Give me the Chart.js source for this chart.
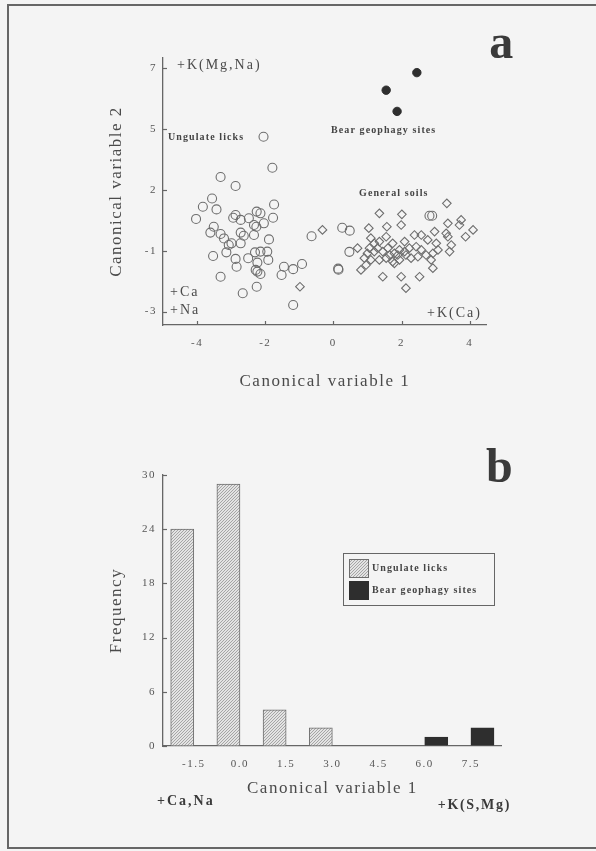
<!DOCTYPE html>
<html lang="en">
<head>
<meta charset="UTF-8">
<title>Canonical variables</title>
<style>
    body {
        margin: 0;
        background: #f4f4f4;
        width: 596px;
        height: 851px;
        overflow: hidden;
        position: relative;
    }
    .frame {
        position: absolute;
        left: 7px;
        top: 4px;
        width: 640px;
        height: 845px;
        border: 2px solid #666;
        box-sizing: border-box;
    }
    #scatterChart { position: absolute; left: 0; top: 0; }
    #barChart { position: absolute; left: 0; top: 420px; }
</style>
</head>
<body>
<div class="frame"></div>
<canvas id="scatterChart" width="596" height="420"></canvas>
<canvas id="barChart" width="596" height="431"></canvas>

<script src="https://cdn.jsdelivr.net/npm/chart.js"></script>
<script>
    // panel a: canonical variable 1 (x) / canonical variable 2 (y)
    const ungulateLicks = [
        [-2.05, 4.17], [-1.79, 2.90], [-3.31, 2.52], [-2.87, 2.15], [-3.56, 1.64],
        [-3.83, 1.30], [-3.43, 1.19], [-4.03, 0.80], [-1.74, 1.39], [-2.25, 1.10],
        [-2.14, 1.03], [-2.87, 0.96], [-2.94, 0.85], [-2.72, 0.76], [-2.48, 0.83],
        [-2.04, 0.62], [-1.77, 0.85], [-2.33, 0.55], [-2.26, 0.48], [-3.51, 0.48],
        [-3.61, 0.24], [-3.31, 0.18], [-2.72, 0.24], [-2.63, 0.11], [-2.33, 0.14],
        [-1.89, -0.04], [-3.21, 0.00], [-2.99, -0.20], [-3.07, -0.27], [-2.72, -0.20],
        [-3.14, -0.57], [-2.30, -0.57], [-2.14, -0.54], [-1.94, -0.54], [-3.53, -0.72],
        [-2.50, -0.81], [-2.87, -0.84], [-1.91, -0.88], [-2.23, -0.99], [-2.84, -1.16],
        [-2.28, -1.29], [-2.23, -1.36], [-2.14, -1.46], [-3.31, -1.57], [-2.25, -1.98],
        [-2.66, -2.25], [-1.45, -1.16], [-1.52, -1.50], [-1.18, -1.26], [-0.92, -1.05],
        [-1.18, -2.73], [-0.64, 0.09], [0.26, 0.44], [0.48, 0.32], [0.47, -0.55],
        [0.14, -1.24], [0.15, -1.28], [2.82, 0.93], [2.90, 0.93]
    ];
    const generalSoils = [
        [-0.32, 0.35], [-0.98, -1.98], [3.33, 1.44], [1.35, 1.03], [2.01, 0.99],
        [3.75, 0.76], [1.04, 0.42], [1.57, 0.48], [1.99, 0.55], [3.36, 0.62],
        [3.70, 0.55], [2.58, 0.14], [2.97, 0.28], [3.31, 0.21], [4.10, 0.35],
        [3.88, 0.07], [3.46, -0.27], [2.77, -0.06], [1.10, 0.01], [1.35, -0.13],
        [1.55, 0.07], [1.74, -0.20], [2.09, -0.13], [0.71, -0.40], [1.06, -0.40],
        [1.20, -0.54], [1.30, -0.40], [1.45, -0.54], [1.60, -0.40], [1.79, -0.61],
        [1.94, -0.47], [2.09, -0.54], [2.23, -0.40], [2.43, -0.34], [2.58, -0.47],
        [0.91, -0.81], [1.10, -0.88], [1.35, -0.88], [1.55, -0.81], [1.74, -0.95],
        [1.94, -0.88], [2.13, -0.68], [2.28, -0.81], [2.48, -0.75], [2.72, -0.68],
        [2.92, -0.61], [3.07, -0.47], [3.41, -0.54], [0.81, -1.29], [1.45, -1.57],
        [1.99, -1.57], [2.53, -1.57], [2.92, -1.22], [2.13, -2.04], [0.96, -1.09],
        [1.79, -1.02], [3.02, -0.20], [2.38, 0.14], [3.36, 0.07], [1.20, -0.20],
        [1.89, -0.68], [1.65, -0.68], [2.87, -0.88], [1.00, -0.61]
    ];
    const bearSites = [[2.45, 6.80], [1.55, 6.08], [1.87, 5.21]];

    const cv1Ticks = [-4, -2, 0, 2, 4];
    const cv2TickValues = [-3, -0.5, 2, 4.5, 7];
    const cv2TickLabels = ['-3', '-1', '2', '5', '7'];

    // panel b: frequency histogram of canonical variable 1
    const binCentres = [-1.5, 0, 1.5, 3, 4.5, 6, 7.5];
    const binLabels = ['-1.5', '0.0', '1.5', '3.0', '4.5', '6.0', '7.5'];
    const ungulateFreq = [24, 29, 4, 2, 0, 0, 0];
    const bearFreq = [0, 0, 0, 0, 0, 1, 2];
    const freqTicks = [0, 6, 12, 18, 24, 30];

    const SERIF = "'Liberation Serif', 'DejaVu Serif', serif";
    const toPts = arr => arr.map(p => ({ x: p[0], y: p[1] }));

    function makeHatch() {
        const c = document.createElement('canvas');
        c.width = 3; c.height = 3;
        const g = c.getContext('2d');
        g.fillStyle = '#e3e3e3';
        g.fillRect(0, 0, 3, 3);
        g.strokeStyle = '#959595';
        g.lineWidth = 0.8;
        g.beginPath();
        g.moveTo(0, 3); g.lineTo(3, 0);
        g.moveTo(-1.5, 1.5); g.lineTo(1.5, -1.5);
        g.moveTo(1.5, 4.5); g.lineTo(4.5, 1.5);
        g.stroke();
        return g.createPattern(c, 'repeat');
    }

    // chart.js draws ticks outward only, these go into the plot
    const innerTicks = {
        id: 'innerTicks',
        afterDraw(chart, args, opts) {
            const ctx = chart.ctx;
            ctx.save();
            ctx.strokeStyle = '#666';
            ctx.lineWidth = 1.2;
            (opts.axes || []).forEach(id => {
                const s = chart.scales[id];
                s.ticks.forEach(t => {
                    const p = Math.round(s.getPixelForValue(t.value)) + 0.5;
                    ctx.beginPath();
                    if (s.isHorizontal()) {
                        ctx.moveTo(p, s.top);
                        ctx.lineTo(p, s.top - 4);
                    } else {
                        ctx.moveTo(s.right, p);
                        ctx.lineTo(s.right + 4, p);
                    }
                    ctx.stroke();
                });
            });
            ctx.restore();
        }
    };

    const spacing = {
        id: 'spacing',
        beforeLayout(chart) { chart.ctx.letterSpacing = '1.5px'; },
        beforeDraw(chart) { chart.ctx.letterSpacing = '1.5px'; }
    };

    function drawText(ctx, text, x, y, font, color, align, ls) {
        ctx.save();
        ctx.font = font;
        ctx.fillStyle = color;
        ctx.textAlign = align || 'left';
        ctx.textBaseline = 'middle';
        ctx.letterSpacing = ls || '0px';
        ctx.fillText(text, x, y);
        ctx.restore();
    }

    const notesA = {
        id: 'notesA',
        afterDraw(chart) {
            const ctx = chart.ctx;
            drawText(ctx, '+K(Mg,Na)', 177, 65, '14px ' + SERIF, '#4a4a4a', 'left', '2px');
            drawText(ctx, '+Ca', 170, 292, '14px ' + SERIF, '#4a4a4a', 'left', '2px');
            drawText(ctx, '+Na', 170, 310, '14px ' + SERIF, '#4a4a4a', 'left', '2px');
            drawText(ctx, '+K(Ca)', 482, 313, '14px ' + SERIF, '#4a4a4a', 'right', '2px');
            drawText(ctx, 'Ungulate licks', 168, 137, 'bold 10px ' + SERIF, '#444', 'left', '1.1px');
            drawText(ctx, 'Bear geophagy sites', 331, 130, 'bold 10px ' + SERIF, '#444', 'left', '1.1px');
            drawText(ctx, 'General soils', 359, 193, 'bold 10px ' + SERIF, '#444', 'left', '1.1px');
            ctx.save();
            ctx.font = 'bold 48px ' + SERIF;
            ctx.fillStyle = '#3a3a3a';
            ctx.textAlign = 'center';
            ctx.textBaseline = 'alphabetic';
            ctx.fillText('a', 502, 58);
            ctx.restore();
        }
    };

    const notesB = {
        id: 'notesB',
        afterDraw(chart) {
            const ctx = chart.ctx;
            drawText(ctx, '+Ca,Na', 157, 381, 'bold 14px ' + SERIF, '#3a3a3a', 'left', '2px');
            drawText(ctx, '+K(S,Mg)', 511, 385, 'bold 14px ' + SERIF, '#3a3a3a', 'right', '1.7px');
            ctx.save();
            ctx.font = 'bold 48px ' + SERIF;
            ctx.fillStyle = '#3a3a3a';
            ctx.textAlign = 'center';
            ctx.textBaseline = 'alphabetic';
            ctx.fillText('b', 500, 62);
            ctx.restore();

            // legend box
            ctx.save();
            ctx.strokeStyle = '#666';
            ctx.lineWidth = 1;
            ctx.strokeRect(343.5, 133.5, 151, 52);
            chart.data.datasets.forEach((ds, i) => {
                const top = 139 + i * 22;
                ctx.fillStyle = ds.backgroundColor;
                ctx.fillRect(349.5, top + 0.5, 19, 18);
                ctx.strokeStyle = ds.borderColor;
                ctx.strokeRect(349.5, top + 0.5, 19, 18);
                drawText(ctx, ds.label, 372, top + 9.5, 'bold 10px ' + SERIF, '#444', 'left', '1.1px');
            });
            ctx.restore();
        }
    };

    const tickFont = { family: SERIF, size: 11 };
    const titleFont = { family: SERIF, size: 17 };
    const axisGrid = { display: true, drawOnChartArea: false, drawTicks: false, color: 'rgba(0,0,0,0)' };
    const axisBorder = { display: true, color: '#666', width: 1.3 };

    new Chart(document.getElementById('scatterChart'), {
        type: 'scatter',
        data: {
            datasets: [
                {
                    label: 'Ungulate licks',
                    data: toPts(ungulateLicks),
                    pointStyle: 'circle',
                    pointRadius: 4.5,
                    pointBorderWidth: 1.1,
                    pointBorderColor: '#6e6e6e',
                    pointBackgroundColor: 'rgba(0,0,0,0)'
                },
                {
                    label: 'General soils',
                    data: toPts(generalSoils),
                    pointStyle: 'rectRot',
                    pointRadius: 4.3,
                    pointBorderWidth: 1.1,
                    pointBorderColor: '#6e6e6e',
                    pointBackgroundColor: 'rgba(0,0,0,0)'
                },
                {
                    label: 'Bear geophagy sites',
                    data: toPts(bearSites),
                    pointStyle: 'circle',
                    pointRadius: 4.2,
                    pointBorderWidth: 1,
                    pointBorderColor: '#2e2e2e',
                    pointBackgroundColor: '#2e2e2e'
                }
            ]
        },
        options: {
            responsive: false,
            animation: false,
            layout: { padding: { left: 106.5, top: 58, right: 109.3, bottom: 28 } },
            plugins: {
                legend: { display: false },
                tooltip: { enabled: false },
                innerTicks: { axes: ['x', 'y'] }
            },
            scales: {
                x: {
                    type: 'linear',
                    min: -5,
                    max: 4.5,
                    afterBuildTicks: s => { s.ticks = cv1Ticks.map(v => ({ value: v })); },
                    afterFit: s => { s.height = 67; },
                    grid: axisGrid,
                    border: axisBorder,
                    ticks: { padding: 12, color: '#555', font: tickFont },
                    title: { display: true, text: 'Canonical variable 1', color: '#4a4a4a', font: titleFont, padding: 0 }
                },
                y: {
                    type: 'linear',
                    min: -3.55,
                    max: 7.4,
                    afterBuildTicks: s => { s.ticks = cv2TickValues.map(v => ({ value: v })); },
                    afterFit: s => { s.width = 56.5; },
                    grid: axisGrid,
                    border: axisBorder,
                    ticks: {
                        padding: 6,
                        color: '#555',
                        font: tickFont,
                        callback: v => cv2TickLabels[cv2TickValues.indexOf(v)]
                    },
                    title: { display: true, text: 'Canonical variable 2', color: '#4a4a4a', font: titleFont, padding: 0 }
                }
            }
        },
        plugins: [spacing, innerTicks, notesA]
    });

    new Chart(document.getElementById('barChart'), {
        type: 'bar',
        data: {
            datasets: [
                {
                    label: 'Ungulate licks',
                    data: binCentres.map((x, i) => ({ x: x, y: ungulateFreq[i] || null })),
                    backgroundColor: makeHatch(),
                    borderColor: '#6e6e6e',
                    borderWidth: 1,
                    borderSkipped: 'start'
                },
                {
                    label: 'Bear geophagy sites',
                    data: binCentres.map((x, i) => ({ x: x, y: bearFreq[i] || null })),
                    backgroundColor: '#2e2e2e',
                    borderColor: '#2e2e2e',
                    borderWidth: 1,
                    borderSkipped: 'start'
                }
            ]
        },
        options: {
            responsive: false,
            animation: false,
            datasets: { bar: { categoryPercentage: 1, barPercentage: 1 } },
            layout: { padding: { left: 106.5, top: 55, right: 94.3, bottom: 52.5 } },
            plugins: {
                legend: { display: false },
                tooltip: { enabled: false },
                innerTicks: { axes: ['y'] }
            },
            scales: {
                x: {
                    type: 'linear',
                    min: -2.5,
                    max: 8.5,
                    offset: false,
                    afterBuildTicks: s => { s.ticks = binCentres.map(v => ({ value: v })); },
                    afterFit: s => { s.height = 52.5; },
                    grid: axisGrid,
                    border: axisBorder,
                    ticks: {
                        padding: 12,
                        color: '#555',
                        font: tickFont,
                        callback: v => binLabels[binCentres.indexOf(v)]
                    },
                    title: { display: true, text: 'Canonical variable 1', color: '#4a4a4a', font: titleFont, padding: 0 }
                },
                y: {
                    min: 0,
                    max: 30,
                    afterBuildTicks: s => { s.ticks = freqTicks.map(v => ({ value: v })); },
                    afterFit: s => { s.width = 56.5; },
                    grid: axisGrid,
                    border: axisBorder,
                    ticks: { padding: 7, color: '#555', font: tickFont },
                    title: { display: true, text: 'Frequency', color: '#4a4a4a', font: titleFont, padding: 0 }
                }
            }
        },
        plugins: [spacing, innerTicks, notesB]
    });
</script>
</body>
</html>
